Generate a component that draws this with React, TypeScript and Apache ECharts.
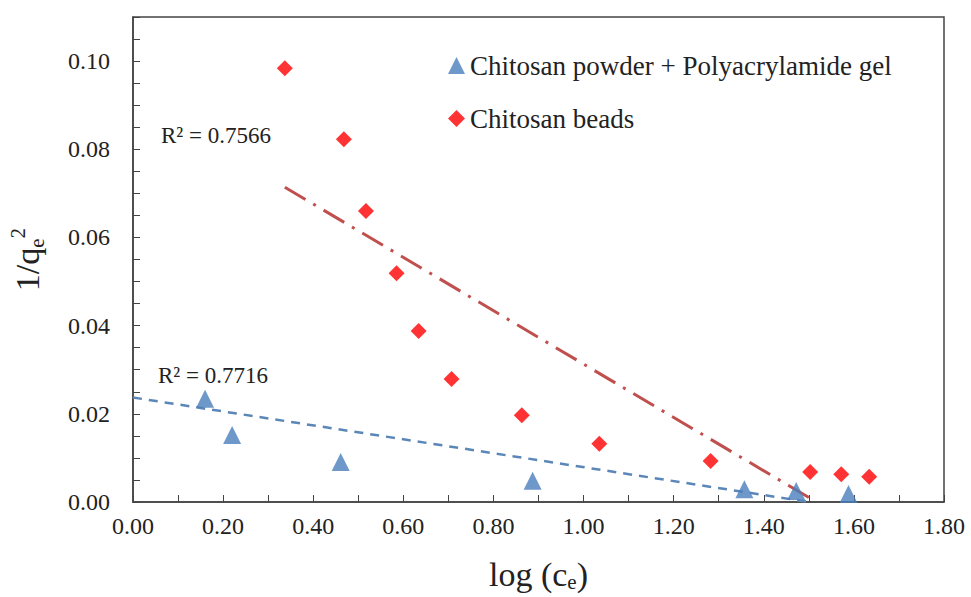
import React, { useEffect, useRef } from "react";
import * as echarts from "echarts";

const powderX = [0.16, 0.22, 0.461, 0.887, 1.357, 1.472, 1.588];
const powderY = [0.0234, 0.0152, 0.0091, 0.0048, 0.0029, 0.0025, 0.0018];
const beadsX = [0.337, 0.468, 0.517, 0.585, 0.634, 0.707, 0.863, 1.035, 1.282, 1.503, 1.572, 1.634];
const beadsY = [0.0984, 0.0823, 0.066, 0.0519, 0.0388, 0.0279, 0.0197, 0.0132, 0.0093, 0.0068, 0.0063, 0.0057];
const powderTrendX = [0, 1.5];
const powderTrendY = [0.0237, 0];
const beadsTrendX = [0.337, 1.517];
const beadsTrendY = [0.0714, 0];
const seriesNames = ["Chitosan powder + Polyacrylamide gel", "Chitosan beads"];
const r2Texts = ["R² = 0.7566", "R² = 0.7716"];

const SERIF = "Liberation Serif";

export default function App() {
  const ref = useRef<HTMLDivElement>(null);
  useEffect(() => {
    if (!ref.current) return;
    const chart = echarts.init(ref.current, null, { renderer: "svg" });
    const zip = (xs: number[], ys: number[]) => xs.map((x, i) => [x, ys[i]]);
    chart.setOption({
      animation: false,
      textStyle: { fontFamily: SERIF },
      grid: {
        left: 133,
        right: 27,
        top: 17,
        bottom: 95,
        show: true,
        borderColor: "#444",
        borderWidth: 1.5,
        containLabel: false,
        outerBoundsMode: "none",
      },
      legend: {
        orient: "vertical",
        left: 443,
        top: 47,
        itemGap: 26,
        itemWidth: 17,
        itemHeight: 17,
        data: [
          { name: seriesNames[0], icon: "triangle" },
          { name: seriesNames[1], icon: "diamond" },
        ],
        textStyle: { fontFamily: SERIF, fontSize: 27, color: "#222" },
      },
      xAxis: {
        type: "value",
        min: 0,
        max: 1.8,
        interval: 0.1,
        name: "{m|log (c}{s|e}{m|)}",
        nameLocation: "middle",
        nameGap: 54,
        nameTextStyle: {
          fontFamily: SERIF,
          rich: {
            m: { fontFamily: SERIF, fontSize: 34, color: "#222", lineHeight: 36, verticalAlign: "middle" },
            s: { fontFamily: SERIF, fontSize: 21, color: "#222", lineHeight: 22, verticalAlign: "bottom" },
          },
        },
        axisLine: { show: true, lineStyle: { color: "#444", width: 1.5 } },
        axisTick: { show: true, inside: true, length: 7, lineStyle: { color: "#444" } },
        axisLabel: {
          fontFamily: SERIF,
          fontSize: 24,
          color: "#222",
          margin: 12,
          formatter: (v: number) => (Math.round(v * 10) % 2 === 0 ? v.toFixed(2) : ""),
        },
        splitLine: { show: false },
      },
      yAxis: {
        type: "value",
        min: 0,
        max: 0.11,
        interval: 0.005,
        name: "{m|1/q}{s|e}{p|2}",
        nameLocation: "middle",
        nameGap: 86,
        nameTextStyle: {
          fontFamily: SERIF,
          rich: {
            m: { fontFamily: SERIF, fontSize: 34, color: "#222", lineHeight: 40, verticalAlign: "middle" },
            s: { fontFamily: SERIF, fontSize: 21, color: "#222", lineHeight: 24, verticalAlign: "bottom" },
            p: { fontFamily: SERIF, fontSize: 21, color: "#222", lineHeight: 24, verticalAlign: "top" },
          },
        },
        axisLine: { show: true, lineStyle: { color: "#444", width: 1.5 } },
        axisTick: { show: true, inside: true, length: 7, lineStyle: { color: "#444" } },
        axisLabel: {
          fontFamily: SERIF,
          fontSize: 24,
          color: "#222",
          margin: 23,
          formatter: (v: number) => (Math.round(v * 1000) % 20 === 0 && v < 0.105 ? v.toFixed(2) : ""),
        },
        splitLine: { show: false },
      },
      graphic: [
        {
          type: "text",
          x: 161,
          y: 135,
          style: { text: r2Texts[0], fontFamily: SERIF, fontSize: 23, fill: "#222", verticalAlign: "middle" },
        },
        {
          type: "text",
          x: 158,
          y: 375,
          style: { text: r2Texts[1], fontFamily: SERIF, fontSize: 23, fill: "#222", verticalAlign: "middle" },
        },
      ],
      series: [
        {
          name: "powderTrend",
          type: "line",
          data: zip(powderTrendX, powderTrendY),
          symbol: "none",
          lineStyle: { color: "#5b87b8", width: 2.5, type: [9, 7] },
          z: 1,
        },
        {
          name: "beadsTrend",
          type: "line",
          data: zip(beadsTrendX, beadsTrendY),
          symbol: "none",
          lineStyle: { color: "#c0504d", width: 3, type: [24, 9, 3, 9] },
          z: 1,
        },
        {
          name: seriesNames[0],
          type: "scatter",
          symbol: "triangle",
          symbolSize: 18,
          itemStyle: { color: "#4a7ebb" },
          data: zip(powderX, powderY),
          z: 3,
        },
        {
          name: seriesNames[1],
          type: "scatter",
          symbol: "diamond",
          symbolSize: 16,
          itemStyle: { color: "#ff0000" },
          data: zip(beadsX, beadsY),
          z: 3,
        },
      ],
    });
    return () => chart.dispose();
  }, []);
  return <div ref={ref} style={{ position: "absolute", left: 0, top: 0, width: 971, height: 597 }} />;
}
